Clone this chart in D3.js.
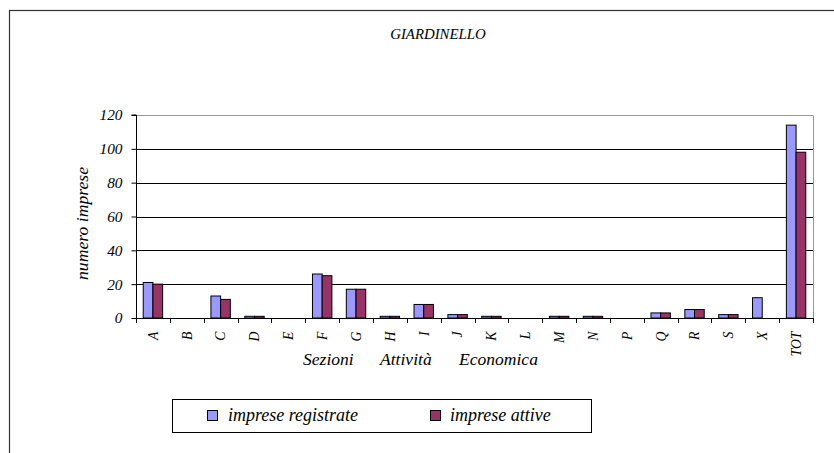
<!DOCTYPE html>
<html><head><meta charset="utf-8">
<script src="https://cdn.jsdelivr.net/npm/d3@7/dist/d3.min.js"></script>
<style>
html,body{margin:0;padding:0;background:#fff;}
svg text{font-family:"Liberation Serif","Times New Roman",Times,"DejaVu Serif",serif;font-style:italic;}
</style></head>
<body><svg id="c" width="834" height="453"></svg>
<script>
const categories = ["A","B","C","D","E","F","G","H","I","J","K","L","M","N","P","Q","R","S","X","TOT"];
const registrate = [21,0,13,1,0,26,17,1,8,2,1,0,1,1,0,3,5,2,12,114];
const attive     = [20,0,11,1,0,25,17,1,8,2,1,0,1,1,0,3,5,2,0,98];
const yTicks = [0,20,40,60,80,100,120];
const seriesNames = ["imprese registrate","imprese attive"];
const seriesColors = ["#9999FF","#993366"];
const title = "GIARDINELLO";
const yTitle = "numero imprese";
const xTitleWords = ["Sezioni","Attività","Economica"];

const FONT = "'Liberation Serif','Times New Roman',Times,serif";
const svg = d3.select("#c");
const L = 136, R = 813, T = 115, B = 318;

// scale font size so that a sample string reaches the reference width
function fitSize(sample, base, target){
  const t = svg.append("text").attr("font-family",FONT).attr("font-style","italic")
    .attr("font-size",base).text(sample);
  const w = t.node().getComputedTextLength();
  t.remove();
  return w>0 ? Math.min(base*1.35, Math.max(base*0.8, base*target/w)) : base;
}
const fsTick = fitSize("120",13,23);
const fsYT = fitSize(yTitle,14,113);
const fsLeg = fitSize(seriesNames[0],14,130);
const fsTitle = fitSize(title,11,98);
const fsXT = fitSize("Economica",14,79);
const fsCat = fitSize("TOT",12,25);

// outer frame
svg.append("rect").attr("x",9.5).attr("y",10.5).attr("width",900).attr("height",500)
  .attr("fill","#fff").attr("stroke","#333").attr("stroke-width",1.2);

const x = d3.scaleBand().domain(categories).range([L,R]).padding(0);
const y = d3.scaleLinear().domain([0,120]).range([B,T]);
const bw = 9.7;

// gridlines
svg.append("g").selectAll("line").data(yTicks.filter(d=>d>0)).join("line")
  .attr("x1",L).attr("x2",R)
  .attr("y1",d=>Math.round(y(d))+0.5).attr("y2",d=>Math.round(y(d))+0.5)
  .attr("stroke",d=>d===120?"#999":"#000").attr("stroke-width",1);
// right border
svg.append("line").attr("x1",R+0.5).attr("x2",R+0.5).attr("y1",T+0.5).attr("y2",B)
  .attr("stroke","#999");

// bars
const data = categories.map((c,i)=>({c, v:[registrate[i],attive[i]]}));
const g = svg.append("g");
[0,1].forEach(s=>{
  g.selectAll(".b"+s).data(data.filter(d=>d.v[s]>0)).join("rect")
    .attr("x",d=>x(d.c)+x.bandwidth()/2 - bw + s*bw)
    .attr("y",d=>y(d.v[s]))
    .attr("width",bw)
    .attr("height",d=>B-y(d.v[s]))
    .attr("fill",seriesColors[s]).attr("stroke","#000").attr("stroke-width",1);
});

// y axis
const ya = svg.append("g").attr("transform",`translate(${L+0.5},0)`)
  .call(d3.axisLeft(y).tickValues(yTicks).tickSize(5).tickPadding(9).tickFormat(d3.format("d")));
ya.attr("font-family",FONT);
ya.select(".domain").attr("stroke","#000").attr("d",`M-5,${T}H0V${B}`);
ya.selectAll("line").attr("stroke","#000");
ya.selectAll("text").attr("font-size",fsTick).attr("font-family",FONT).attr("font-style","italic").attr("fill","#000");

// x axis
const xa = svg.append("g").attr("transform",`translate(0,${B+0.5})`)
  .call(d3.axisBottom(x).tickSize(0).tickPadding(0));
xa.attr("font-family",FONT);
xa.select(".domain").attr("stroke","#000").attr("d",`M${L},0H${R}`);
xa.selectAll(".tick line").remove();
xa.selectAll(".tick text").attr("font-size",fsCat).attr("font-family",FONT)
  .attr("font-style","italic").attr("fill","#000")
  .attr("transform","rotate(-90)").attr("text-anchor","end")
  .attr("x",-13).attr("y",0).attr("dy","0.35em");
// boundary ticks
svg.append("g").selectAll("line").data(categories.concat(["_end"])).join("line")
  .attr("x1",(d,i)=>Math.round(L + i*x.step())+0.5).attr("x2",(d,i)=>Math.round(L + i*x.step())+0.5)
  .attr("y1",B).attr("y2",B+5).attr("stroke","#000");

// titles
svg.append("text").attr("x",438).attr("y",39).attr("text-anchor","middle")
  .attr("font-family",FONT).attr("font-size",fsTitle).text(title);
svg.append("text").attr("transform",`translate(88,${(T+B)/2+7}) rotate(-90)`)
  .attr("font-family",FONT).attr("text-anchor","middle").attr("font-size",fsYT).text(yTitle);
const xt = svg.append("text").attr("y",365).attr("font-size",fsXT).attr("font-family",FONT);
const wx = [303,380,459];
xTitleWords.forEach((w,i)=>xt.append("tspan").attr("x",wx[i]).text(w));

// legend
svg.append("rect").attr("x",172.5).attr("y",399.5).attr("width",419).attr("height",33)
  .attr("fill","#fff").attr("stroke","#000");
const lx = [207,430], tx=[228,450];
seriesNames.forEach((n,i)=>{
  svg.append("rect").attr("x",lx[i]+0.5).attr("y",410.5).attr("width",10).attr("height",10)
    .attr("fill",seriesColors[i]).attr("stroke","#000");
  svg.append("text").attr("x",tx[i]).attr("y",421).attr("font-size",fsLeg).attr("font-family",FONT).text(n);
});
</script></body></html>
